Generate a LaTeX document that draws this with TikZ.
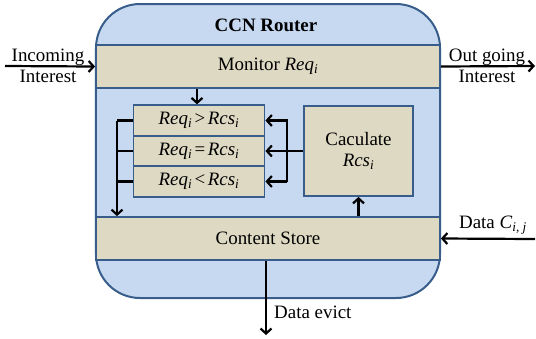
\documentclass[tikz,border=0pt]{standalone}
\usepackage{fontspec}
\setmainfont{Liberation Serif}
\usetikzlibrary{arrows.meta}
\definecolor{routerblue}{RGB}{198,217,241}
\definecolor{edgeblue}{RGB}{56,93,138}
\definecolor{bandtan}{RGB}{221,217,195}
\tikzset{
  router/.style={draw=edgeblue,line width=2bp,fill=routerblue,rounded corners=44bp,
    minimum width=344bp,minimum height=294bp,inner sep=0pt},
  band/.style={draw=edgeblue,line width=1.8bp,fill=bandtan,inner sep=0pt,align=center},
  arr/.style={line width=2.2bp,-{Straight Barb[length=5bp,width=11bp]}},
  wire/.style={line width=2.2bp}
}
\newcommand{\ital}[2]{\textit{#1}\textsubscript{\textit{#2}}}
\begin{document}
\begin{tikzpicture}[x=1bp,y=-1bp,font=\fontsize{19}{21}\selectfont]
  \useasboundingbox (0,0) rectangle (536,338);

  \node[router] (router) at (268,151) {};
  \node[font=\fontsize{19}{21}\selectfont\bfseries] (title) at (266,25) {CCN Router};

  \node[band,minimum width=344bp,minimum height=43bp] (monitor) at (268,66.5) {Monitor \ital{Req}{i}};
  \node[band,minimum width=344bp,minimum height=43bp] (store) at (268,238.5) {Content Store};

  \node[band,minimum width=131bp,minimum height=30.5bp] (gt) at (199,120.5) {\ital{Req}{i}\kern2.5bp>\kern2.5bp\ital{Rcs}{i}};
  \node[band,minimum width=131bp,minimum height=30.5bp] (eq) at (199,151) {\ital{Req}{i}\kern2.5bp=\kern2.5bp\ital{Rcs}{i}};
  \node[band,minimum width=131bp,minimum height=30.5bp] (lt) at (199,181.5) {\ital{Req}{i}\kern2.5bp<\kern2.5bp\ital{Rcs}{i}};
  \node[band,minimum width=109bp,minimum height=90bp] (calc) at (358.5,151) {Caculate\\\ital{Rcs}{i}};

  % outside connections
  \coordinate (inend) at (5,66);
  \coordinate (outend) at (535,66);
  \coordinate (dataend) at (535,239);
  \coordinate (evictend) at (266,335);
  \draw[arr] (inend) -- (monitor.west);
  \draw[arr] (monitor.east) -- (outend);
  \draw[arr] (dataend) -- (store.east);
  \draw[arr] (store.south -| evictend) -- (evictend);
  \node[align=center] (inlbl) at (48,66) {Incoming\\Interest};
  \node[align=center] (outlbl) at (487,66) {Out going\\Interest};
  \node (datalbl) at (493,225) {Data \ital{C}{i, j}};
  \node[anchor=west,inner sep=0pt] (evictlbl) at (274,312) {Data evict};

  % inside connections
  \draw[arr] (monitor.south -| 197,0) -- (gt.north -| 197,0);
  \draw[arr] (store.north -| calc.south) -- (calc.south);
  \draw[arr] (calc.west) -- (eq.east);
  \coordinate (rgt) at (287,0);
  \draw[arr] (lt.east -| rgt) -- (gt.east -| rgt) -- (gt.east);
  \draw[arr] (lt.east -| rgt) -- (lt.east);
  \coordinate (lft) at (117,0);
  \draw[wire] (gt.west) -- (gt.west -| lft);
  \draw[wire] (eq.west) -- (eq.west -| lft);
  \draw[wire] (lt.west) -- (lt.west -| lft);
  \draw[arr] (gt.west -| lft) -- (store.north -| lft);
\end{tikzpicture}
\end{document}
